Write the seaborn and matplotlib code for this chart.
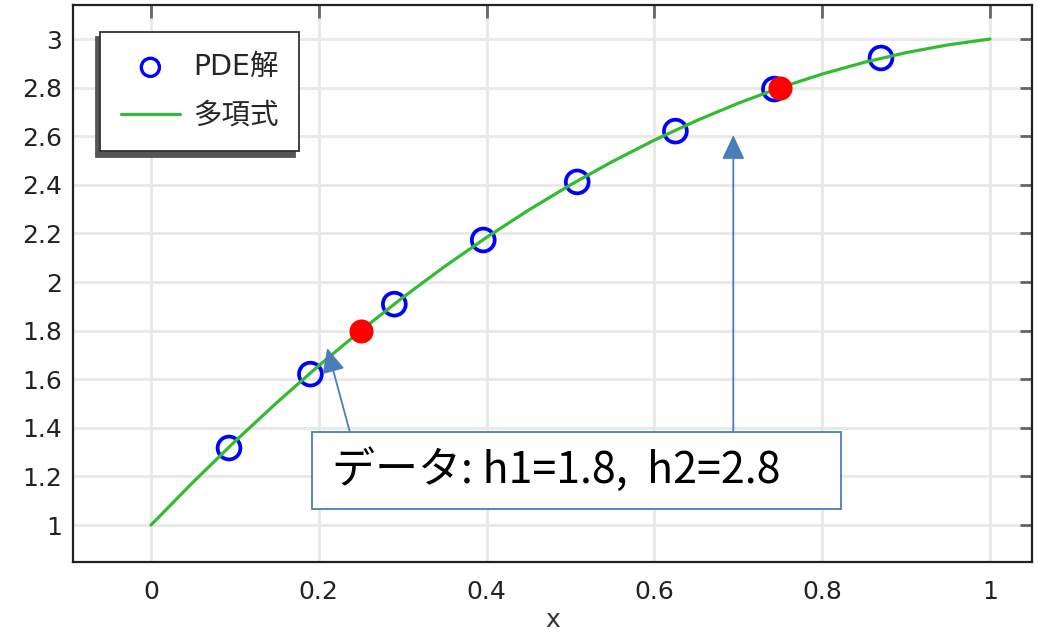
import numpy as np
import pandas as pd
import matplotlib
matplotlib.use("Agg")
import matplotlib.pyplot as plt
import seaborn as sns

# PDE solution samples
pde_x = [0.093, 0.190, 0.290, 0.396, 0.508, 0.625, 0.743, 0.870]
pde_y = [1.317, 1.621, 1.909, 2.173, 2.412, 2.621, 2.794, 2.922]

# fitted polynomial curve, sampled along x
poly_x = [0.00, 0.05, 0.10, 0.15, 0.20, 0.25, 0.30, 0.35, 0.40, 0.45, 0.50,
          0.55, 0.60, 0.65, 0.70, 0.75, 0.80, 0.85, 0.90, 0.95, 1.00]
poly_y = [1.000, 1.176, 1.344, 1.504, 1.656, 1.800, 1.936, 2.064, 2.184, 2.296, 2.400,
          2.496, 2.584, 2.664, 2.736, 2.800, 2.856, 2.904, 2.944, 2.976, 3.000]

# measured data points h1, h2
data_x = [0.25, 0.75]
data_y = [1.8, 2.8]

x_ticks = [0, 0.2, 0.4, 0.6, 0.8, 1]
x_ticklabels = ["0", "0.2", "0.4", "0.6", "0.8", "1"]
y_ticks = [1, 1.2, 1.4, 1.6, 1.8, 2, 2.2, 2.4, 2.6, 2.8, 3]
y_ticklabels = ["1", "1.2", "1.4", "1.6", "1.8", "2", "2.2", "2.4", "2.6", "2.8", "3"]

legend_labels = ["PDE解", "多項式"]
callout_text = "データ: h1=1.8,  h2=2.8"

sns.set_style("white")
plt.rcParams["font.family"] = "DejaVu Sans"
mixed_family = ["DejaVu Sans", "Noto Sans CJK JP"]

fig = plt.figure(figsize=(10.38, 6.34), dpi=100)
ax = fig.add_axes([0.0703, 0.1136, 0.9239, 0.8785])

pde_df = pd.DataFrame({"x": pde_x, "y": pde_y})
poly_df = pd.DataFrame({"x": poly_x, "y": poly_y})
data_df = pd.DataFrame({"x": data_x, "y": data_y})

green = "#33bb33"
blue = "#0000ff"
sns.scatterplot(data=pde_df, x="x", y="y", ax=ax, marker="o", s=270,
                facecolors="none", edgecolor=blue, linewidth=2.7,
                zorder=3, label=legend_labels[0])
sns.lineplot(data=poly_df, x="x", y="y", ax=ax, color=green, linewidth=2.3,
             zorder=4, label=legend_labels[1])
sns.scatterplot(data=data_df, x="x", y="y", ax=ax, color="#ff0000", s=300,
                linewidth=0, zorder=5, legend=False)

ax.set_xlim(-0.093, 1.05)
ax.set_ylim(0.848, 3.14)
ax.set_xticks(x_ticks)
ax.set_xticklabels(x_ticklabels)
ax.set_yticks(y_ticks)
ax.set_yticklabels(y_ticklabels)
ax.set_xlabel("x", fontsize=18, color="#333333", labelpad=3)
ax.set_ylabel("")

ax.grid(True, color="#e8e8e8", linewidth=2.0, zorder=0)
ax.set_axisbelow(True)
ax.tick_params(axis="both", which="major", direction="in", length=9, width=2,
               color="#666666", labelsize=18, labelcolor="#222222",
               top=True, right=True)
ax.tick_params(axis="x", pad=13)
ax.tick_params(axis="y", pad=8)
for sp in ax.spines.values():
    sp.set_visible(True)
    sp.set_color("#222222")
    sp.set_linewidth(1.6)

leg = ax.legend(loc="upper left", bbox_to_anchor=(0.028, 0.952), borderaxespad=0,
                prop={"family": mixed_family, "size": 20.5}, frameon=True,
                fancybox=False, handlelength=2.07, handletextpad=0.46,
                labelspacing=0.74, borderpad=0.74,
                shadow={"ox": -3, "oy": -4, "color": "#555555", "alpha": 1})
leg.get_frame().set_edgecolor("#333333")
leg.get_frame().set_linewidth(1.3)
for h in leg.legend_handles:
    if hasattr(h, "set_sizes"):
        h.set_sizes([170])
        h.set_linewidth(2.4)

# callout box with arrows pointing at the curve
box_color = "#4a7ebb"
ax.add_patch(plt.Rectangle((0.192, 1.066), 0.630, 0.317, facecolor="white",
                           edgecolor=box_color, linewidth=1.3, zorder=6))
ax.text(0.216, 1.226, callout_text, fontsize=31, va="center", ha="left",
        family=["Noto Sans CJK JP"], color="black", zorder=7)
arrow_props = dict(arrowstyle="-|>,head_length=0.6,head_width=0.28", color=box_color,
                   lw=1.3, mutation_scale=25, shrinkA=0, shrinkB=0)
ax.annotate("", xy=(0.210, 1.728), xytext=(0.237, 1.383),
            arrowprops=arrow_props, zorder=6)
ax.annotate("", xy=(0.694, 2.605), xytext=(0.694, 1.383),
            arrowprops=arrow_props, zorder=6)

fig.savefig("out.png", dpi=100)
